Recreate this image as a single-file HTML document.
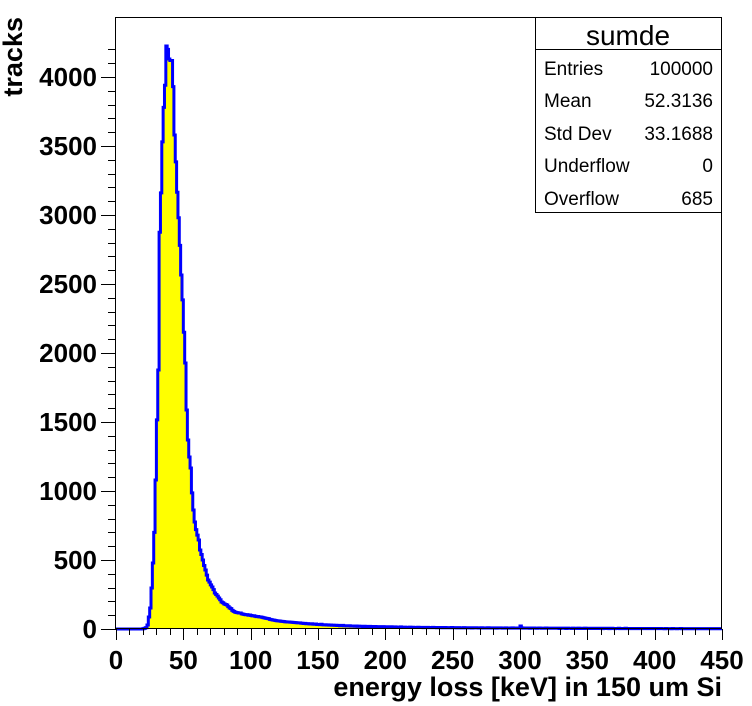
<!DOCTYPE html>
<html><head><meta charset="utf-8"><style>
html,body{margin:0;padding:0;background:#fff;}
svg{display:block;font-family:"Liberation Sans",sans-serif;}
</style></head><body>
<svg id="chart" width="752" height="706" viewBox="0 0 752 706">
<rect x="0" y="0" width="752" height="706" fill="#fff"/>
<g id="plot"></g>
<g id="axes"></g>
<text x="722" y="696" text-anchor="end" font-size="27" font-weight="bold">energy loss [keV] in 150 um Si</text>
<text transform="translate(22,17) rotate(-90)" text-anchor="end" font-size="27" font-weight="bold">tracks</text>
<g>
<rect x="535.5" y="17.5" width="186" height="195" fill="#fff" stroke="#000" stroke-width="1"/>
<line x1="535.5" y1="49.5" x2="721.5" y2="49.5" stroke="#000"/>
<text x="628" y="45" text-anchor="middle" font-size="28">sumde</text>
<g font-size="19">
<text x="544" y="75">Entries</text><text x="713" y="75" text-anchor="end">100000</text>
<text x="544" y="107">Mean</text><text x="713" y="107" text-anchor="end">52.3136</text>
<text x="544" y="140">Std Dev</text><text x="713" y="140" text-anchor="end">33.1688</text>
<text x="544" y="172">Underflow</text><text x="713" y="172" text-anchor="end">0</text>
<text x="544" y="205">Overflow</text><text x="713" y="205" text-anchor="end">685</text>
</g></g>
</svg>
<script>
const binWidth = 1;
const xTicks = [0,50,100,150,200,250,300,350,400,450];
const yTicks = [0,500,1000,1500,2000,2500,3000,3500,4000];
const counts = [
0,0,0,0,0,0,0,0,0,0,0,0,0,0,0,0,0,0,0,0,
3,5,10,29,87,152,297,478,700,1080,1515,1877,2875,3160,3530,3780,3940,4225,4200,4130,
4120,4120,3930,3580,3385,3165,2980,2780,2565,2385,2150,1928,1587,1370,1246,1167,986,862,775,720,
680,645,572,540,500,460,428,390,355,340,320,304,285,261,250,238,225,212,196,190,
182,178,174,162,152,148,135,128,123,120,118,116,116,110,108,105,103,104,100,101,
98,95,96,92,90,91,88,87,85,82,80,78,76,74,70,68,65,
64,62,60,59,58,56,55,54,53,52,51,51,50,49,48,47,46,45,44,44,43,
42,40,41,38,39,37,36,38,35,34,36,33,
33,32,34,31,30,31,29,30,28,29,27,28,26,27,25,26,24,25,26,23,24,22,23,24,21,22,21,20,22,19,21,20,19,18,20,19,18,17,19,18,17,16,18,17,16,17,15,16,17,15,
15,16,14,15,16,14,13,15,14,13,14,15,12,13,14,12,13,12,14,11,13,12,11,12,13,11,12,11,10,12,11,12,10,11,10,12,11,10,9,11,10,11,9,10,11,9,10,9,10,11,
9,10,9,8,10,9,8,9,10,8,9,8,9,8,7,9,8,9,8,7,8,9,7,8,7,8,9,7,8,7,8,7,6,8,7,8,7,6,7,8,6,7,7,6,8,7,6,7,6,7,
22,8,6,7,6,7,6,5,7,6,7,6,5,6,7,6,5,6,5,7,6,5,6,5,6,5,6,5,6,4,6,5,6,5,4,6,5,5,4,6,5,4,5,6,4,5,4,5,6,4,
5,4,5,4,5,4,4,5,4,5,4,3,5,4,4,5,3,4,5,4,3,4,4,5,3,4,3,4,5,3,4,3,4,3,4,4,3,4,3,4,3,4,3,3,4,3,3,4,3,4,
3,4,3,3,4,3,3,2,4,3,3,3,2,4,3,3,2,3,3,4,2,3,3,2,3,3,2,3,3,2,3,3,2,3,2,3,3,2,3,2,3,2,3,2,2,3,2,3,2,3
];
const NS='http://www.w3.org/2000/svg';
const X0=116, X1=722, Y0=629, Y1=17, XMAX=450, YMAX=(629-17)/0.138;
function sx(v){return X0+(v/XMAX)*(X1-X0);}
function sy(v){return Y0-(v/YMAX)*(Y0-Y1);}
const plotG=document.getElementById('plot');
const axesG=document.getElementById('axes');
const nb=Math.min(counts.length, XMAX/binWidth);
let topPath='';
for(let i=0;i<nb;i++){
  const xa=sx(i*binWidth), xb=sx((i+1)*binWidth), y=sy(counts[i]);
  topPath+=(i===0?'M':'L')+xa.toFixed(2)+','+y.toFixed(2)+' L'+xb.toFixed(2)+','+y.toFixed(2)+' ';
}
const fillEl=document.createElementNS(NS,'path');
fillEl.setAttribute('d',topPath+'L'+sx(nb*binWidth)+','+Y0+' L'+X0+','+Y0+' Z');
fillEl.setAttribute('fill','#ffff00');


plotG.appendChild(fillEl);
const lineEl=document.createElementNS(NS,'path');
lineEl.setAttribute('d',topPath);
lineEl.setAttribute('fill','none');
lineEl.setAttribute('stroke','#0000ff');
lineEl.setAttribute('stroke-width','3');


plotG.appendChild(lineEl);
function mk(tag,attrs){const e=document.createElementNS(NS,tag);for(const k in attrs)e.setAttribute(k,attrs[k]);return e;}
const frameEl=mk('rect',{x:115.5,y:17.5,width:606,height:611,fill:'none',stroke:'#000','stroke-width':1});


axesG.appendChild(frameEl);
let tp='';
for(let v=0;v<=XMAX;v+=10){const x=Math.round(sx(v))+0.5;tp+='M'+x+','+Y0+' L'+x+','+(Y0+(v%50===0?11:6))+' ';}
for(let v=0;v<=4200;v+=100){const y=Math.round(sy(v))+0.5;tp+='M'+X0+','+y+' L'+(X0-(v%500===0?15:8))+','+y+' ';}
const ticksEl=mk('path',{d:tp,stroke:'#000','stroke-width':1,fill:'none'});


axesG.appendChild(ticksEl);
xTicks.forEach(v=>{
  const t=mk('text',{x:sx(v),y:669,'text-anchor':'middle','font-size':26,'font-weight':'bold'});
  t.textContent=v;
  
  
  axesG.appendChild(t);
});
yTicks.forEach(v=>{
  const t=mk('text',{x:97,y:sy(v)+9,'text-anchor':'end','font-size':26,'font-weight':'bold'});
  t.textContent=v;
  
  
  axesG.appendChild(t);
});
</script>
</body></html>
